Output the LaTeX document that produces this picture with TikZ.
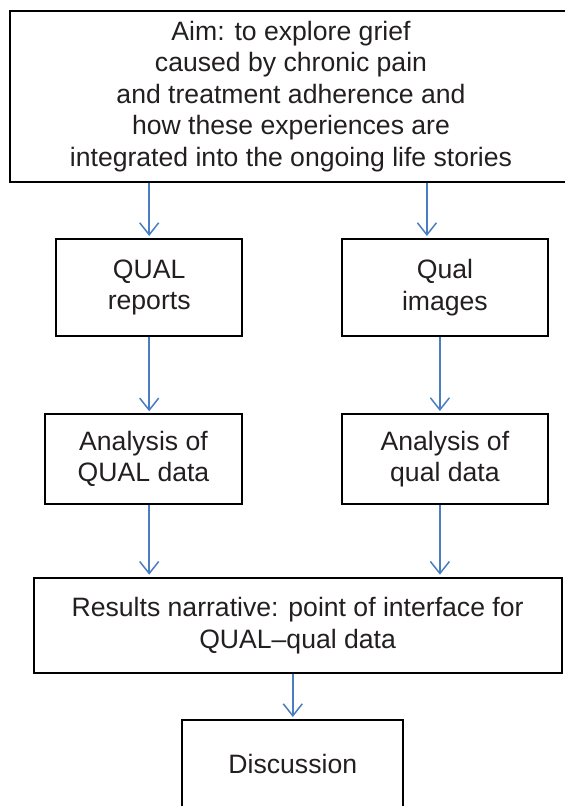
\documentclass[tikz,border=0pt]{standalone}
\usepackage{fontspec}
\setmainfont{Liberation Sans}
\usetikzlibrary{arrows.meta}
\definecolor{arrowblue}{RGB}{74,126,193}
\definecolor{textdark}{RGB}{35,31,32}
\begin{document}
\begin{tikzpicture}[x=1pt, y=1pt,
  box/.style={draw, line width=2pt, align=center, inner sep=0pt, text=textdark,
    font=\fontsize{26.6}{31.5}\selectfont},
  arr/.style={draw=arrowblue, line width=1.5pt, shorten >=2pt,
    -{Straight Barb[length=12pt, width=19pt, line width=1.5pt]}}]
  \useasboundingbox (0,0) rectangle (565,-806);

  \node[box, minimum width=562pt, minimum height=171pt] (aim) at (291,-96.2)
    {Aim: to explore grief\\caused by chronic pain\\and treatment adherence and\\how these experiences are\\integrated into the ongoing life stories};
  \node[box, minimum width=186.3pt, minimum height=97.3pt] (qrep) at (149.2,-287.6) {QUAL\\reports};
  \node[box, minimum width=205.7pt, minimum height=97pt] (qimg) at (444.9,-287.5) {Qual\\images};
  \node[box, minimum width=197.6pt, minimum height=89.4pt] (aqual) at (143.5,-459) {Analysis of\\QUAL data};
  \node[box, minimum width=205.7pt, minimum height=90pt] (aqimg) at (444.9,-459) {Analysis of\\qual data};
  \node[box, minimum width=528.2pt, minimum height=95.6pt] (results) at (297.6,-625.5)
    {Results narrative: point of interface for\\QUAL--qual data};
  \node[box, minimum width=221pt, minimum height=88pt] (disc) at (292.8,-764) {Discussion};

  \draw[arr] (aim.south -| qrep.north) -- (qrep.north);
  \draw[arr] ([xshift=-18pt]qimg.north |- aim.south) -- ([xshift=-18pt]qimg.north);
  \draw[arr] (qrep.south) -- (qrep.south |- aqual.north);
  \draw[arr] ([xshift=-5pt]qimg.south) -- ([xshift=-5pt]qimg.south |- aqimg.north);
  \draw[arr] (aqual.south -| qrep.south) -- (results.north -| qrep.south);
  \draw[arr] ([xshift=-5pt]aqimg.south) -- ([xshift=-5pt]aqimg.south |- results.north);
  \draw[arr] (results.south -| disc.north) -- (disc.north);
\end{tikzpicture}
\end{document}
